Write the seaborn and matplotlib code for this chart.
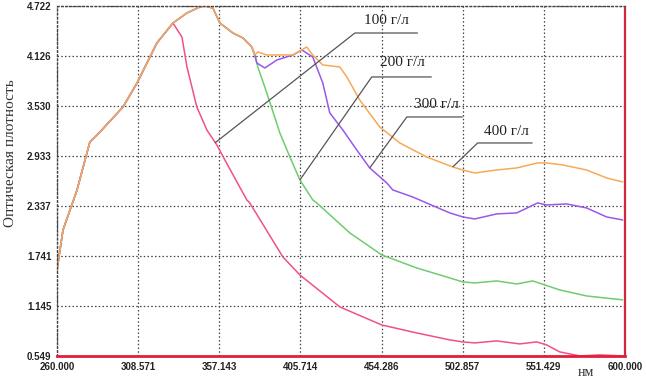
import numpy as np
import pandas as pd
import matplotlib
matplotlib.use("Agg")
import matplotlib.pyplot as plt
import seaborn as sns

# ---- data ----
# shared rising branch (all concentrations overlap)
rise_wl = [260.0, 263.6, 272.0, 277.9, 279.7, 285.7, 299.5, 307.9, 319.8, 329.4]
rise_od = [1.575, 2.052, 2.529, 2.970, 3.101, 3.220, 3.518, 3.804, 4.281, 4.519]
# shared crest (200, 300, 400 g/l overlap)
crest_wl = [337.8, 345.5, 348.5, 353.3, 357.5, 365.3, 371.3, 376.6, 378.4]
crest_od = [4.639, 4.710, 4.722, 4.698, 4.519, 4.400, 4.341, 4.233, 4.138]

tail100_wl = [334.8, 337.8, 343.7, 349.7, 355.7, 360.5, 373.6, 375.4, 395.2, 405.4, 429.3,
              454.4, 475.3, 495.1, 502.9, 510.0, 523.2, 537.0, 547.1, 553.1, 560.9, 572.9,
              584.8, 598.6]
tail100_od = [4.352, 3.995, 3.518, 3.244, 3.065, 2.886, 2.410, 2.374, 1.730, 1.515, 1.134,
              0.919, 0.824, 0.741, 0.717, 0.705, 0.729, 0.693, 0.717, 0.681, 0.598, 0.550,
              0.562, 0.550]

tail200_wl = [380.2, 385.6, 393.4, 399.4, 405.4, 413.1, 415.5, 435.3, 454.4, 475.3, 495.1,
              502.9, 510.0, 523.2, 535.2, 544.7, 551.9, 560.9, 577.0, 598.6]
tail200_od = [3.995, 3.685, 3.208, 2.922, 2.648, 2.410, 2.374, 2.016, 1.754, 1.599, 1.480,
              1.432, 1.420, 1.444, 1.408, 1.444, 1.397, 1.337, 1.265, 1.218]

tail300_wl = [379.6, 384.4, 391.6, 401.2, 406.6, 413.1, 419.1, 423.3, 431.1, 439.4, 447.2,
              457.4, 461.0, 472.9, 495.1, 502.9, 510.0, 523.2, 535.2, 547.7, 553.1, 565.1,
              577.0, 589.0, 598.6]
tail300_od = [4.043, 3.983, 4.078, 4.138, 4.198, 4.114, 3.804, 3.447, 3.244, 3.006, 2.791,
              2.612, 2.529, 2.445, 2.255, 2.207, 2.183, 2.243, 2.255, 2.374, 2.350, 2.362,
              2.314, 2.207, 2.171]

tail400_wl = [380.2, 385.6, 401.2, 409.5, 413.1, 419.1, 429.3, 433.5, 441.2, 453.2, 465.2,
              481.3, 496.9, 502.9, 510.0, 523.2, 535.2, 547.7, 553.1, 562.7, 577.0, 589.0,
              598.6]
tail400_od = [4.174, 4.138, 4.138, 4.233, 4.138, 4.019, 3.995, 3.876, 3.601, 3.280, 3.089,
              2.922, 2.803, 2.767, 2.731, 2.767, 2.791, 2.851, 2.851, 2.827, 2.767, 2.672,
              2.624]

series_names = ["100 г/л", "200 г/л", "300 г/л", "400 г/л"]
x_ticks = [260.000, 308.571, 357.143, 405.714, 454.286, 502.857, 551.429, 600.000]
y_ticks = [0.549, 1.145, 1.741, 2.337, 2.933, 3.530, 4.126, 4.722]

# build long table
rows = []
def add(name, wl, od):
    for a, b in zip(wl, od):
        rows.append((name, a, b))
add(series_names[0], rise_wl + tail100_wl, rise_od + tail100_od)
add(series_names[1], rise_wl + crest_wl + tail200_wl, rise_od + crest_od + tail200_od)
add(series_names[2], rise_wl + crest_wl + tail300_wl, rise_od + crest_od + tail300_od)
add(series_names[3], rise_wl + crest_wl + tail400_wl, rise_od + crest_od + tail400_od)
df = pd.DataFrame(rows, columns=["series", "wl", "od"])

colors = {"100 г/л": "#f0508c", "200 г/л": "#6fcc6f", "300 г/л": "#9a58ea", "400 г/л": "#f6aa58"}

sns.set_style("white")
plt.rcParams["font.family"] = ["Liberation Serif", "DejaVu Serif"]

fig = plt.figure(figsize=(6.46, 3.87), dpi=100)
ax = fig.add_axes([57/646, 31/387, 568/646, 350/387])

for name in series_names:
    sub = df[df["series"] == name]
    sns.lineplot(data=sub, x="wl", y="od", ax=ax, color=colors[name], lw=1.1,
                 sort=False, estimator=None, legend=False)

ax.set_xlim(260, 600)
ax.set_ylim(0.549, 4.722)
ax.set_xticks(x_ticks)
ax.set_yticks(y_ticks)
ax.set_xticklabels([f"{v:.3f}" for v in x_ticks])
ax.set_yticklabels([f"{v:.3f}" for v in y_ticks])
for lab in ax.get_xticklabels() + ax.get_yticklabels():
    lab.set_fontfamily("Liberation Sans")
    lab.set_fontweight("bold")
    lab.set_fontsize(7)
    lab.set_color("#222222")
ax.tick_params(axis="both", length=2, width=0.8, color="#444444", pad=2)

ax.grid(True, linestyle=(0, (1.2, 1.8)), color="#444444", lw=0.9)
ax.set_axisbelow(True)

for s in ["top", "left"]:
    ax.spines[s].set_linestyle((0, (1.2, 1.8)))
    ax.spines[s].set_color("#444444")
    ax.spines[s].set_linewidth(1.0)
ax.spines["bottom"].set_color("#e0203a")
ax.spines["bottom"].set_linewidth(2.0)
ax.spines["right"].set_color("#d02838")
ax.spines["right"].set_linewidth(1.6)
ax.spines["right"].set_linestyle((0, (1.5, 1.0)))

ax.set_xlabel("")
ax.set_ylabel("Оптическая плотность", fontsize=11, color="#333333")
ax.yaxis.set_label_coords(-0.07, 0.58)
fig.text(586/646, 1 - 373/387, "нм", fontsize=10, ha="center", va="center", color="#333333")

# callouts: text, underline (x0, x1, y), leader end (x, y)
callouts = [
    ("100 г/л", (457.4, 4.555), (438.3, 476.0, 4.400), (354.5, 3.089)),
    ("200 г/л", (467.0, 4.043), (448.4, 484.3, 3.876), (405.4, 2.648)),
    ("300 г/л", (487.3, 3.542), (469.4, 502.9, 3.399), (447.2, 2.791)),
    ("400 г/л", (529.2, 3.220), (511.8, 544.7, 3.089), (496.9, 2.803)),
]
for txt, tpos, ul, end in callouts:
    ax.text(tpos[0], tpos[1], txt, fontsize=11, ha="center", va="center", color="#222222")
    ax.plot([ul[1], ul[0], end[0]], [ul[2], ul[2], end[1]], color="#555555", lw=0.9,
            solid_capstyle="butt")

fig.savefig("out.png", dpi=100)
